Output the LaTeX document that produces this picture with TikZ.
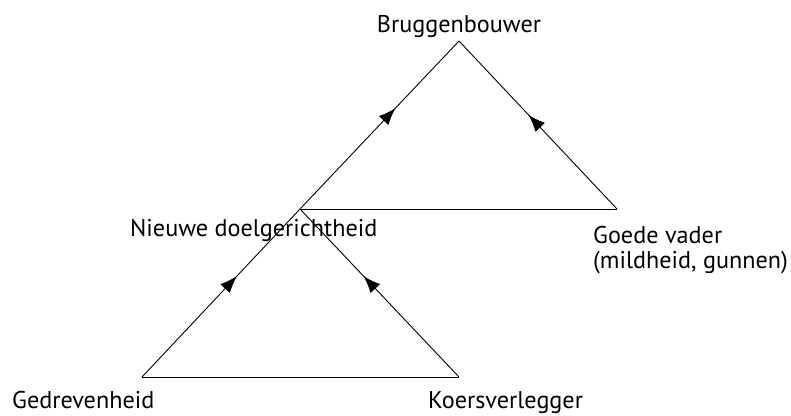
\documentclass[tikz,border=0pt]{standalone}
\usepackage{fontspec}
\setmainfont{PT Sans}
\usetikzlibrary{arrows.meta,decorations.markings}
\begin{document}
\begin{tikzpicture}[x=1pt,y=-1pt,
  edge/.style={line width=0.9pt},
  flow/.style={edge,postaction={decorate},
    decoration={markings,mark=at position #1 with {\arrow{Latex[length=17pt,width=13pt]}}}},
  lbl/.style={inner sep=0pt,font=\fontsize{24.2}{25}\selectfont}]
\useasboundingbox (0,0) rectangle (791,415);
% triangle corners
\coordinate (top) at (459,41);
\coordinate (mid) at (300,209);
\coordinate (right) at (617,209);
\coordinate (botl) at (142,377);
\coordinate (botr) at (459,377);
% sides
\draw[edge] (mid) -- (right);
\draw[edge] (botl) -- (botr);
\draw[flow=0.6] (botl) -- (mid);
\draw[flow=0.6] (botr) -- (mid);
\draw[flow=0.6] (mid) -- (top);
\draw[flow=0.56] (right) -- (top);
% labels
\node[lbl,anchor=base] (brug) at (459,32) {Bruggenbouwer};
\node[lbl,anchor=base west] (nieuw) at (130,236) {Nieuwe doelgerichtheid};
\node[lbl,anchor=base west,align=left] (vader) at (593,268) {Goede vader\\(mildheid, gunnen)};
\node[lbl,anchor=base west] (gedr) at (12,408) {Gedrevenheid};
\node[lbl,anchor=base west] (koers) at (428,408) {Koersverlegger};
\end{tikzpicture}
\end{document}
